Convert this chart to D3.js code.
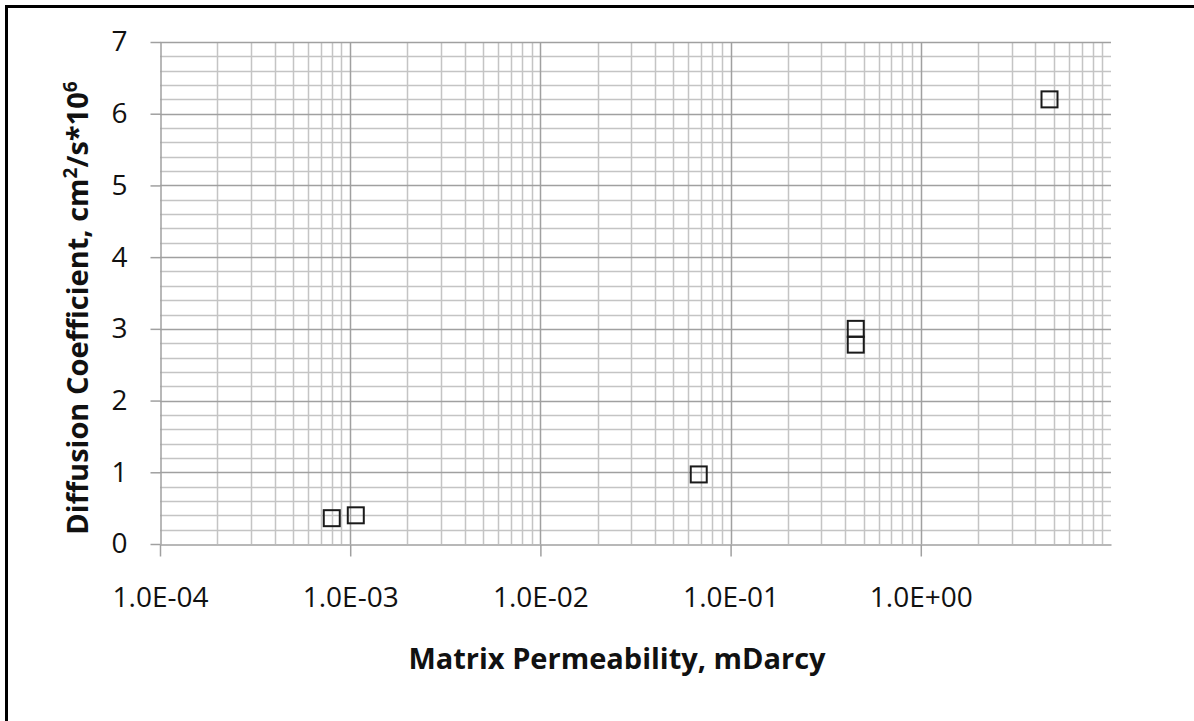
<!DOCTYPE html>
<html>
<head>
<meta charset="utf-8">
<script src="https://cdn.jsdelivr.net/npm/d3@7"></script>
<style>
  body { margin: 0; background: #fff; }
  svg { display: block; font-family: "Open Sans", sans-serif; }
</style>
</head>
<body>
<div id="mainContent"></div>
<script>
/************************************************************
 *
 * DIFFUSION vs PERMEABILITY
 *
 ************************************************************/

// data
var permeability = [8.0e-4, 1.07e-3, 0.068, 0.455, 0.455, 4.75];
var diffusion = [0.36, 0.40, 0.97, 3.0, 2.78, 6.2];

var xTickValues = [1e-4, 1e-3, 1e-2, 1e-1, 1e0];
var xTickLabels = ["1.0E-04", "1.0E-03", "1.0E-02", "1.0E-01", "1.0E+00"];
var yTickValues = [0, 1, 2, 3, 4, 5, 6, 7];

var width = 1194,
    height = 721,
    plotLeft = 160,
    plotRight = 1111,
    plotTop = 42,
    plotBottom = 544;

var svg = d3.select("#mainContent").append("svg")
    .attr("width", width)
    .attr("height", height);

// frame (only top and left edges fall inside the picture)
svg.append("rect")
    .attr("x", 6.5)
    .attr("y", 6.5)
    .attr("width", width + 20)
    .attr("height", height + 20)
    .style("fill", "none")
    .style("stroke", "#000")
    .style("stroke-width", "3px");

var x = d3.scaleLog()
    .domain([1e-4, 1e1])
    .range([plotLeft, plotRight]);

var y = d3.scaleLinear()
    .domain([0, 7])
    .range([plotBottom, plotTop]);

// minor grid
var minorX = [];
for (var e = -4; e <= 0; e++) {
  for (var m = 2; m <= 9; m++) minorX.push(m * Math.pow(10, e));
}
var minorY = d3.range(0, 7.001, 0.2).filter(function(d) {
  return Math.abs(d - Math.round(d)) > 1e-6;
});

var grid = svg.append("g").attr("class", "grid");

grid.selectAll("line.minorx")
    .data(minorX)
  .enter().append("line")
    .attr("class", "minorx")
    .attr("x1", function(d) { return Math.round(x(d)) + 0.5; })
    .attr("x2", function(d) { return Math.round(x(d)) + 0.5; })
    .attr("y1", plotTop)
    .attr("y2", plotBottom)
    .style("stroke", "#c4c4c4")
    .style("stroke-width", "1.5px");

grid.selectAll("line.minory")
    .data(minorY)
  .enter().append("line")
    .attr("class", "minory")
    .attr("x1", plotLeft)
    .attr("x2", plotRight)
    .attr("y1", function(d) { return Math.round(y(d)) + 0.5; })
    .attr("y2", function(d) { return Math.round(y(d)) + 0.5; })
    .style("stroke", "#c4c4c4")
    .style("stroke-width", "1.5px");

grid.selectAll("line.majory")
    .data(yTickValues.slice(1))
  .enter().append("line")
    .attr("class", "majory")
    .attr("x1", plotLeft)
    .attr("x2", plotRight)
    .attr("y1", function(d) { return Math.round(y(d)) + 0.5; })
    .attr("y2", function(d) { return Math.round(y(d)) + 0.5; })
    .style("stroke", "#a0a0a0")
    .style("stroke-width", "1.5px");

grid.selectAll("line.majorx")
    .data(xTickValues.slice(1))
  .enter().append("line")
    .attr("class", "majorx")
    .attr("x1", function(d) { return Math.round(x(d)) + 0.5; })
    .attr("x2", function(d) { return Math.round(x(d)) + 0.5; })
    .attr("y1", plotTop)
    .attr("y2", plotBottom)
    .style("stroke", "#a0a0a0")
    .style("stroke-width", "1.5px");

// axes
var xAxis = d3.axisBottom(x)
    .tickValues(xTickValues)
    .tickFormat(function(d, i) { return xTickLabels[i]; })
    .tickSize(12)
    .tickSizeOuter(0)
    .tickPadding(31);

var yAxis = d3.axisLeft(y)
    .tickValues(yTickValues)
    .tickFormat(d3.format("d"))
    .tickSize(10)
    .tickSizeOuter(0)
    .tickPadding(23);

svg.append("g")
    .attr("class", "x axis")
    .attr("transform", "translate(0," + (plotBottom + 0.5) + ")")
    .call(xAxis);

svg.append("g")
    .attr("class", "y axis")
    .attr("transform", "translate(" + (plotLeft + 0.5) + ",0)")
    .call(yAxis);

svg.selectAll(".axis path, .axis line")
    .style("stroke", "#a0a0a0")
    .style("stroke-width", "1.5px");

svg.selectAll(".axis text")
    .style("font-family", "'Open Sans', sans-serif")
    .style("font-size", "28px")
    .style("fill", "#111");

// points
svg.append("g")
    .selectAll("rect")
    .data(permeability)
  .enter().append("rect")
    .attr("x", function(d) { return x(d) - 8; })
    .attr("y", function(d, i) { return y(diffusion[i]) - 8; })
    .attr("width", 16)
    .attr("height", 16)
    .style("fill", "none")
    .style("stroke", "#1a1a1a")
    .style("stroke-width", "2px");

// titles
svg.append("text")
    .attr("x", 617)
    .attr("y", 669)
    .style("text-anchor", "middle")
    .style("font-weight", "bold")
    .style("font-size", "29px")
    .style("fill", "#111")
    .text("Matrix Permeability, mDarcy");

var yTitle = svg.append("text")
    .attr("transform", "translate(88,308) rotate(-90)")
    .style("text-anchor", "middle")
    .style("font-weight", "bold")
    .style("font-size", "29px")
    .style("fill", "#111");

yTitle.append("tspan").text("Diffusion Coefficient, cm");
yTitle.append("tspan").attr("dy", -11).style("font-size", "19px").text("2");
yTitle.append("tspan").attr("dy", 11).text("/s*10");
yTitle.append("tspan").attr("dy", -11).style("font-size", "19px").text("6");
</script>
</body>
</html>
